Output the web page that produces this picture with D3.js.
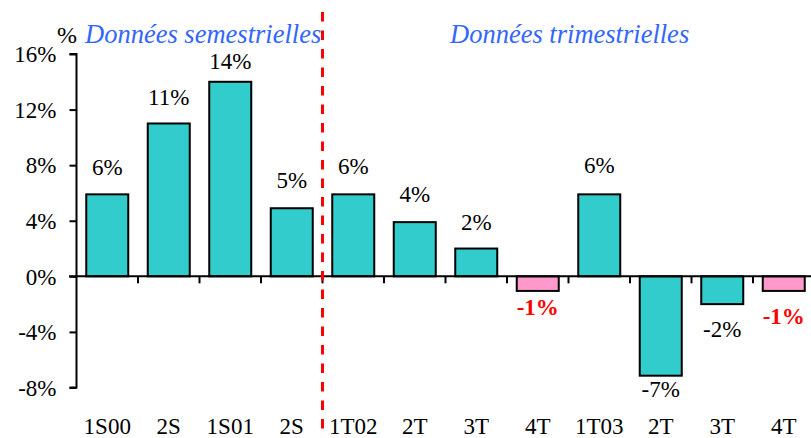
<!DOCTYPE html>
<html>
<head>
<meta charset="utf-8">
<script src="https://cdn.jsdelivr.net/npm/d3@7"></script>
</head>
<body style="margin:0;padding:0;background:#fff">
<svg id="chart" width="811" height="438" style="display:block"></svg>
<script>
// ---- Data ----
const categories = ["1S00", "2S", "1S01", "2S", "1T02", "2T", "3T", "4T", "1T03", "2T", "3T", "4T"];
const values = [5.9, 11, 14, 4.9, 5.9, 3.9, 2.0, -1.05, 5.9, -7.15, -2.0, -1.05];
const valueLabels = ["6%", "11%", "14%", "5%", "6%", "4%", "2%", "-1%", "6%", "-7%", "-2%", "-1%"];
const highlighted = [false, false, false, false, false, false, false, true, false, false, false, true];
const yTicks = [-8, -4, 0, 4, 8, 12, 16];
const sectionTitles = ["Données semestrielles", "Données trimestrielles"];
const semesterCount = 4;

// ---- Layout / style ----
const FONT = '"Liberation Serif"';
const labelGap = [19, 18, 13, 20, 20, 20, 19, 24, 21, 21, 33, 33];
const svg = d3.select("#chart");
const x = d3.scaleBand().domain(d3.range(categories.length))
  .range([76.5, 814.5]).paddingInner(0.317).paddingOuter(0.1585);
const y = d3.scaleLinear().domain([-8, 16]).range([387.5, 54]);
const teal = "#33CCCC", pink = "#FF99CC", blue = "#3366FF";

// bars
svg.append("g").selectAll("rect").data(values).join("rect")
  .attr("x", (d, i) => x(i))
  .attr("width", x.bandwidth())
  .attr("y", d => y(Math.max(0, d)))
  .attr("height", d => Math.abs(y(d) - y(0)))
  .attr("fill", (d, i) => highlighted[i] ? pink : teal)
  .attr("stroke", "#000").attr("stroke-width", 2);

// zero line
svg.append("line").attr("x1", 69).attr("x2", 811)
  .attr("y1", y(0)).attr("y2", y(0))
  .attr("stroke", "#000").attr("stroke-width", 2);

// category ticks under zero line at band boundaries
const step = x.step();
svg.append("g").selectAll("line").data(d3.range(1, categories.length + 1)).join("line")
  .attr("x1", i => 76.5 + i * step).attr("x2", i => 76.5 + i * step)
  .attr("y1", y(0)).attr("y2", y(0) + 7)
  .attr("stroke", "#000").attr("stroke-width", 2);

// y axis
const yAxis = d3.axisLeft(y).tickValues(yTicks).tickSize(7).tickPadding(13)
  .tickFormat(d => d + "%");
const gy = svg.append("g").attr("transform", "translate(76.5,0)").call(yAxis)
  .attr("font-family", null).attr("font-size", null);
gy.select(".domain").attr("d", `M-7,${y(16)}H0V${y(-8)}H-7`).attr("stroke", "#000").attr("stroke-width", 2).attr("fill", "none");
gy.selectAll(".tick line").attr("stroke", "#000").attr("stroke-width", 2);
gy.selectAll(".tick text").style("font-family", FONT).style("font-size", "23px")
  .attr("fill", "#000").attr("dy", "0.34em");

// unit label
svg.append("text").attr("x", 57).attr("y", 43)
  .style("font-family", FONT).style("font-size", "24px").text("%");

// x category labels
svg.append("g").selectAll("text").data(categories).join("text")
  .attr("x", (d, i) => x(i) + x.bandwidth() / 2)
  .attr("y", 434).attr("text-anchor", "middle")
  .style("font-family", FONT).style("font-size", "23px")
  .text(d => d);

// value labels
svg.append("g").selectAll("text").data(values).join("text")
  .attr("x", (d, i) => x(i) + x.bandwidth() / 2)
  .attr("y", (d, i) => d >= 0 ? y(d) - labelGap[i] : y(d) + labelGap[i])
  .attr("text-anchor", "middle")
  .style("font-family", FONT).style("font-size", "23px")
  .style("font-weight", (d, i) => highlighted[i] ? "bold" : "normal")
  .attr("fill", (d, i) => highlighted[i] ? "#FF0000" : "#000")
  .text((d, i) => valueLabels[i]);

// separator dashed line
const sepX = 76.5 + semesterCount * step;
svg.append("line").attr("x1", sepX).attr("x2", sepX).attr("y1", 12).attr("y2", 434)
  .attr("stroke", "#FF0000").attr("stroke-width", 3).attr("stroke-dasharray", "9.5,9");

// section titles
svg.append("text").attr("x", 85).attr("y", 43)
  .style("font-family", FONT).style("font-size", "26.5px").style("font-style", "italic")
  .attr("fill", blue).text(sectionTitles[0]);
svg.append("text").attr("x", 450).attr("y", 43)
  .style("font-family", FONT).style("font-size", "26.5px").style("font-style", "italic")
  .attr("fill", blue).text(sectionTitles[1]);
</script>
</body>
</html>
